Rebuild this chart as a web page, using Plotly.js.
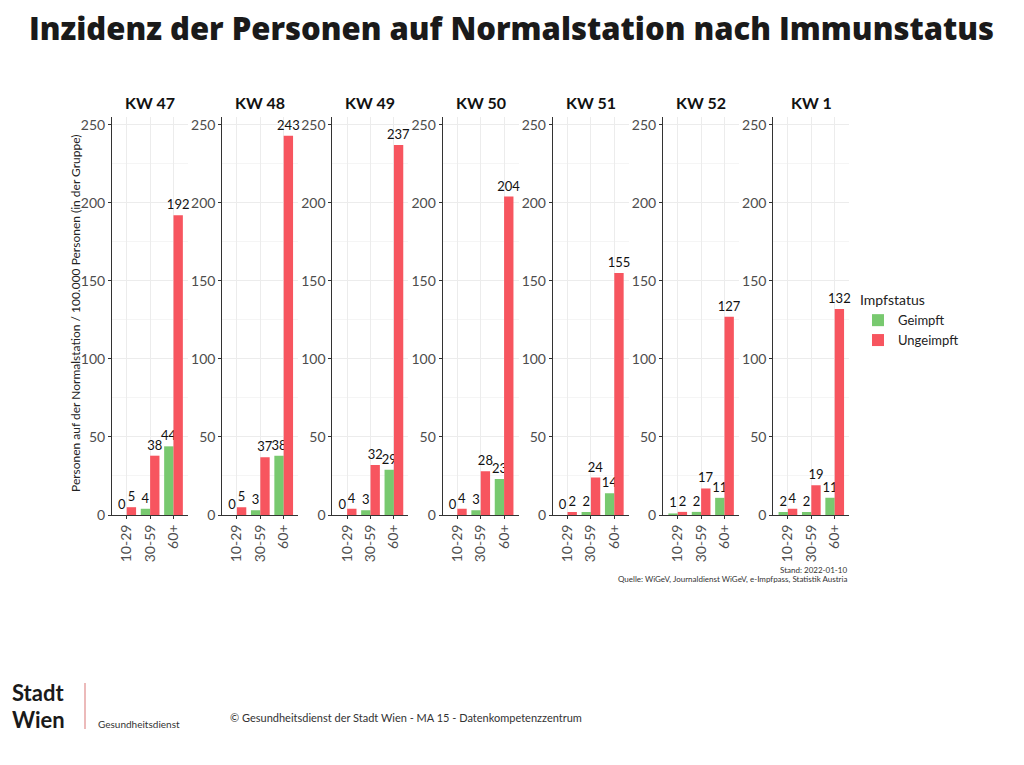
<!DOCTYPE html>
<html>
<head>
<meta charset="utf-8">
<script src="https://cdn.plot.ly/plotly-3.0.1.min.js"></script>
<style>
html,body{margin:0;padding:0;background:#fff;}
#chart{width:1024px;height:765px;}
</style>
</head>
<body>
<div id="chart"></div>
<script>
// ---- data ----
const weeks = ['KW 47','KW 48','KW 49','KW 50','KW 51','KW 52','KW 1'];
const ageGroups = ['10-29','30-59','60+'];
const geimpft = [
  [0,4,44],[0,3,38],[0,3,29],[0,3,23],[0,2,14],[1,2,11],[2,2,11]
];
const ungeimpft = [
  [5,38,192],[5,37,243],[4,32,237],[4,28,204],[2,24,155],[2,17,127],[4,19,132]
];
const seriesNames = ['Geimpft','Ungeimpft'];
const yTicks = [0,50,100,150,200,250];

// ---- styling ----
const W = 1024, H = 765;
const colGreen = '#78C96F';
const colRed = '#F7555F';
const baseFont = 'Lato, "Open Sans", sans-serif';
const px = v => v / W;
const py = v => 1 - v / H;

const traces = [];
const layout = {
  width: W, height: H,
  margin: {l:0, r:0, t:0, b:0},
  paper_bgcolor: '#fff', plot_bgcolor: '#fff',
  font: {family: baseFont, color: '#222'},
  barmode: 'group', bargap: 0.2, bargroupgap: 0,
  showlegend: true,
  legend: {
    x: px(858), y: py(287), xanchor: 'left', yanchor: 'top',
    title: {text: 'Impfstatus', font: {size: 14, color: '#222'}},
    font: {size: 13, color: '#222'},
    itemwidth: 30, tracegroupgap: 0, bgcolor: 'rgba(0,0,0,0)'
  },
  annotations: [], shapes: []
};

const x0 = 112, step = 110.2, pw = 76;
weeks.forEach((wk, i) => {
  const n = i === 0 ? '' : String(i + 1);
  const xa = 'x' + n, ya = 'y' + n;
  [geimpft[i], ungeimpft[i]].forEach((vals, s) => {
    traces.push({
      type: 'bar', x: ageGroups, y: vals, xaxis: xa, yaxis: ya,
      name: seriesNames[s], legendgroup: seriesNames[s], showlegend: i === 0,
      marker: {color: s === 0 ? colGreen : colRed, line: {width: 0}},
      text: vals.map(String), textposition: 'outside', cliponaxis: false,
      constraintext: 'none',
      textfont: {size: 13, color: '#111', family: baseFont},
      hoverinfo: 'skip'
    });
  });
  const left = x0 + i * step;
  layout['xaxis' + n] = {
    domain: [px(left), px(left + pw)], anchor: ya,
    type: 'category', range: [-0.63, 2.62],
    tickangle: -90, tickfont: {size: 14, color: '#4d4d4d'},
    showline: true, linecolor: '#333', linewidth: 1,
    ticks: 'outside', ticklen: 3, tickcolor: '#333',
    showgrid: true, gridcolor: '#ececec', gridwidth: 1, zeroline: false,
    fixedrange: true
  };
  layout['yaxis' + n] = {
    domain: [py(515), py(117)], anchor: xa,
    range: [0, 255], tickvals: yTicks,
    tickfont: {size: 14, color: '#4d4d4d'},
    showline: true, linecolor: '#333', linewidth: 1,
    ticks: 'outside', ticklen: 3, tickcolor: '#333',
    showgrid: true, gridcolor: '#ececec', gridwidth: 1,
    minor: {dtick: 25, showgrid: true, gridcolor: '#f5f5f5', gridwidth: 1},
    zeroline: false, fixedrange: true
  };
  layout.annotations.push({
    text: '<b>' + wk + '</b>', xref: 'paper', yref: 'paper',
    x: px(left + pw / 2), y: py(103), xanchor: 'center', yanchor: 'middle',
    showarrow: false, font: {size: 16, color: '#111', family: baseFont}
  });
});

// title
layout.annotations.push({
  text: 'Inzidenz der Personen auf Normalstation nach Immunstatus',
  xref: 'paper', yref: 'paper', x: px(511), y: py(28),
  xanchor: 'center', yanchor: 'middle', showarrow: false,
  font: {size: 31, color: '#1a1a1a', family: '"Open Sans", sans-serif', weight: 800}
});
// y-axis title
layout.annotations.push({
  text: 'Personen auf der Normalstation / 100.000 Personen (in der Gruppe)',
  xref: 'paper', yref: 'paper', x: px(75), y: py(313),
  xanchor: 'center', yanchor: 'middle', textangle: -90, showarrow: false,
  font: {size: 12, color: '#222', family: baseFont}
});
// sources
layout.annotations.push({
  text: 'Stand: 2022-01-10', xref: 'paper', yref: 'paper',
  x: px(849), y: py(570), xanchor: 'right', yanchor: 'middle', showarrow: false,
  font: {size: 8, color: '#333', family: baseFont}
});
layout.annotations.push({
  text: 'Quelle: WiGeV, Journaldienst WiGeV, e-Impfpass, Statistik Austria',
  xref: 'paper', yref: 'paper',
  x: px(849), y: py(579), xanchor: 'right', yanchor: 'middle', showarrow: false,
  font: {size: 8, color: '#333', family: baseFont}
});
// logo
layout.annotations.push({
  text: '<b>Stadt</b>', xref: 'paper', yref: 'paper',
  x: px(10), y: py(692), xanchor: 'left', yanchor: 'middle', showarrow: false,
  font: {size: 22, color: '#1a1a1a', family: baseFont}
});
layout.annotations.push({
  text: '<b>Wien</b>', xref: 'paper', yref: 'paper',
  x: px(10), y: py(719), xanchor: 'left', yanchor: 'middle', showarrow: false,
  font: {size: 22, color: '#1a1a1a', family: baseFont}
});
layout.shapes.push({
  type: 'line', xref: 'paper', yref: 'paper',
  x0: px(85), x1: px(85), y0: py(683), y1: py(729),
  line: {color: '#e6a3a3', width: 1.5}
});
layout.annotations.push({
  text: 'Gesundheitsdienst', xref: 'paper', yref: 'paper',
  x: px(96), y: py(724), xanchor: 'left', yanchor: 'middle', showarrow: false,
  font: {size: 10, color: '#333', family: baseFont}
});
layout.annotations.push({
  text: '© Gesundheitsdienst der Stadt Wien - MA 15 - Datenkompetenzzentrum',
  xref: 'paper', yref: 'paper',
  x: px(228), y: py(717), xanchor: 'left', yanchor: 'middle', showarrow: false,
  font: {size: 11, color: '#333', family: baseFont}
});

Plotly.newPlot('chart', traces, layout, {displayModeBar: false, staticPlot: true});
</script>
</body>
</html>
